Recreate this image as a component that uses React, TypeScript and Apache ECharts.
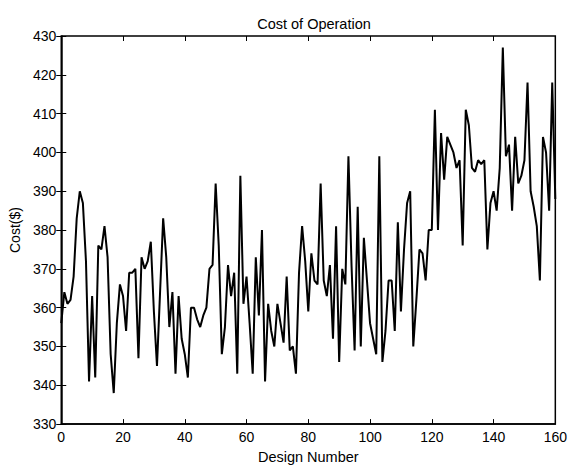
import React, { useEffect, useRef } from "react";
import * as echarts from "echarts";

const title = "Cost of Operation";
const xName = "Design Number";
const yName = "Cost($)";

const costValues: number[] = [
  356, 364, 361, 362, 368, 383, 390, 387, 372, 341,
  363, 342, 376, 375, 381, 373, 348, 338, 356, 366,
  363, 354, 369, 369, 370, 347, 373, 370, 372, 377,
  359, 345, 364, 383, 373, 355, 364, 343, 363, 352,
  348, 342, 360, 360, 357, 355, 358, 360, 370, 371,
  392, 376, 348, 355, 371, 363, 369, 343, 394, 361,
  368, 356, 343, 373, 358, 380, 341, 361, 354, 350,
  361, 356, 351, 368, 349, 350, 343, 369, 381, 372,
  359, 374, 367, 366, 392, 367, 363, 371, 352, 381,
  346, 370, 366, 399, 371, 349, 386, 350, 378, 367,
  356, 352, 348, 399, 346, 354, 367, 367, 354, 382,
  359, 375, 387, 390, 350, 362, 375, 374, 367, 380,
  380, 411, 380, 405, 393, 404, 402, 400, 396, 398,
  376, 411, 407, 396, 395, 398, 397, 398, 375, 387,
  390, 385, 396, 427, 399, 402, 385, 404, 392, 394,
  398, 418, 390, 386, 381, 367, 404, 400, 385, 418,
  388,
];

const xMin = 0;
const xMax = 160;
const xStep = 20;
const yMin = 330;
const yMax = 430;
const yStep = 10;

const FONT = "'Liberation Sans', Arial, Helvetica, sans-serif";

export default function App() {
  const ref = useRef<HTMLDivElement>(null);
  useEffect(() => {
    if (!ref.current) return;
    const chart = echarts.init(ref.current, null, { renderer: "svg" });
    const tick = { show: true, inside: true, length: 5, lineStyle: { color: "#000", width: 1 } };
    const label = { color: "#000", fontFamily: FONT, fontSize: 14 };
    chart.setOption({
      animation: false,
      backgroundColor: "#fff",
      title: {
        text: title,
        left: 309,
        top: 11,
        textAlign: "center",
        textStyle: { color: "#000", fontFamily: FONT, fontSize: 14.5, fontWeight: "normal" },
      },
      grid: {
        left: 61,
        right: 12,
        top: 36,
        bottom: 39,
        show: true,
        borderColor: "#000",
        borderWidth: 1.5,
        backgroundColor: "#fff",
      },
      xAxis: [
        {
          type: "value",
          min: xMin,
          max: xMax,
          interval: xStep,
          name: xName,
          nameLocation: "middle",
          nameGap: 23,
          nameTextStyle: { color: "#000", fontFamily: FONT, fontSize: 14.5 },
          axisLine: { show: true, lineStyle: { color: "#000", width: 1.5 } },
          axisTick: tick,
          axisLabel: { ...label, margin: 6 },
          splitLine: { show: false },
        },
        {
          type: "value",
          position: "top",
          min: xMin,
          max: xMax,
          interval: xStep,
          axisLine: { show: false },
          axisTick: tick,
          axisLabel: { show: false },
          splitLine: { show: false },
        },
      ],
      yAxis: [
        {
          type: "value",
          min: yMin,
          max: yMax,
          interval: yStep,
          name: yName,
          nameLocation: "middle",
          nameGap: 37,
          nameTextStyle: { color: "#000", fontFamily: FONT, fontSize: 14 },
          axisLine: { show: true, lineStyle: { color: "#000", width: 1.5 } },
          axisTick: tick,
          axisLabel: { ...label, margin: 5 },
          splitLine: { show: false },
        },
        {
          type: "value",
          position: "right",
          min: yMin,
          max: yMax,
          interval: yStep,
          axisLine: { show: false },
          axisTick: tick,
          axisLabel: { show: false },
          splitLine: { show: false },
        },
      ],
      series: [
        {
          type: "line",
          xAxisIndex: 0,
          yAxisIndex: 0,
          data: costValues.map((v, i) => [i, v]),
          showSymbol: false,
          symbol: "none",
          lineStyle: { color: "#000", width: 2 },
        },
      ],
    });
    return () => chart.dispose();
  }, []);
  return <div ref={ref} style={{ width: 570, height: 469, position: "absolute", left: 0, top: 0 }} />;
}
